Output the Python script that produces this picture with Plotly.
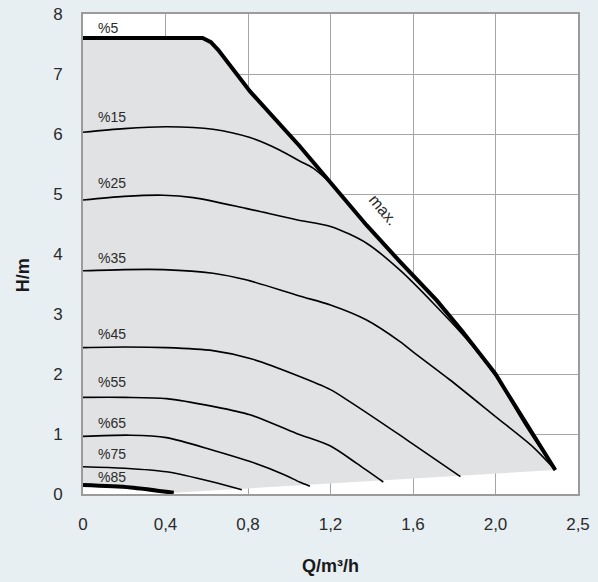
import plotly.graph_objects as go

# ---- data (Q in m3/h, H in m) ----
q_max = [0, 0.58, 0.62, 0.656, 0.81, 1.05, 1.21, 1.375, 1.54, 1.714, 1.84, 2.0, 2.05, 2.18, 2.29]
h_max = [7.6, 7.6, 7.53, 7.4, 6.71, 5.8, 5.15, 4.48, 3.86, 3.23, 2.71, 2.0, 1.72, 1.0, 0.4]

q15 = [0, 0.2, 0.405, 0.63, 0.81, 0.955, 1.05, 1.116, 1.21]
h15 = [6.03, 6.09, 6.12, 6.08, 5.94, 5.73, 5.55, 5.43, 5.15]

q25 = [0, 0.2, 0.39, 0.535, 0.79, 1.035, 1.2, 1.375, 1.537, 1.698, 1.85, 2.0, 2.15, 2.29]
h25 = [4.9, 4.96, 4.98, 4.94, 4.76, 4.57, 4.46, 4.18, 3.73, 3.18, 2.62, 1.97, 1.12, 0.4]

q35 = [0, 0.2, 0.39, 0.63, 0.79, 1.05, 1.2, 1.375, 1.537, 1.6, 1.78, 2.0, 2.18, 2.29]
h35 = [3.72, 3.74, 3.74, 3.68, 3.57, 3.3, 3.15, 2.9, 2.54, 2.37, 1.9, 1.29, 0.79, 0.4]

q45 = [0, 0.2, 0.405, 0.63, 0.81, 1.035, 1.2, 1.28, 1.537, 1.6, 1.83]
h45 = [2.44, 2.45, 2.44, 2.39, 2.26, 1.98, 1.74, 1.57, 0.98, 0.83, 0.29]

q55 = [0, 0.2, 0.405, 0.63, 0.81, 1.035, 1.2, 1.327, 1.456]
h55 = [1.61, 1.61, 1.59, 1.46, 1.32, 1.01, 0.8, 0.51, 0.2]

q65 = [0, 0.23, 0.405, 0.63, 0.81, 0.97, 1.05, 1.1]
h65 = [0.96, 0.98, 0.94, 0.73, 0.54, 0.33, 0.2, 0.13]

q75 = [0, 0.2, 0.405, 0.63, 0.77]
h75 = [0.455, 0.43, 0.37, 0.2, 0.07]

q85 = [0, 0.23, 0.44]
h85 = [0.15, 0.11, 0.02]

curve_labels = ["%5", "%15", "%25", "%35", "%45", "%55", "%65", "%75", "%85"]
label_h = [7.77, 6.28, 5.19, 3.94, 2.67, 1.86, 1.19, 0.67, 0.29]
label_q = 0.063

x_tickvals = [0, 0.4, 0.8, 1.2, 1.6, 2.0, 2.4]
x_ticktext = ["0", "0,4", "0,8", "1,2", "1,6", "2,0", "2,5"]
y_tickvals = [0, 1, 2, 3, 4, 5, 6, 7, 8]

FONT = "Liberation Sans, Arial, Helvetica, sans-serif"
TXT = "#2a2a2a"

fig = go.Figure()

# shaded operating area
fill_x = q_max + q85[::-1]
fill_y = h_max + h85[::-1]
fig.add_trace(go.Scatter(x=fill_x, y=fill_y, fill="toself", fillcolor="#e1e2e4",
                         mode="lines", line=dict(width=0), hoverinfo="skip"))

thin = [(q15, h15), (q25, h25), (q35, h35), (q45, h45), (q55, h55), (q65, h65), (q75, h75)]
for qx, hy in thin:
    fig.add_trace(go.Scatter(x=qx, y=hy, mode="lines",
                             line=dict(color="black", width=1.6, shape="spline", smoothing=0.8),
                             hoverinfo="skip"))

fig.add_trace(go.Scatter(x=q85, y=h85, mode="lines",
                         line=dict(color="black", width=4, shape="spline", smoothing=0.8),
                         hoverinfo="skip"))
fig.add_trace(go.Scatter(x=q_max, y=h_max, mode="lines",
                         line=dict(color="black", width=4),
                         hoverinfo="skip"))

annotations = []
for t, hv in zip(curve_labels, label_h):
    annotations.append(dict(x=label_q, y=hv, xref="x", yref="y", text=t, showarrow=False,
                            xanchor="left", yanchor="middle",
                            font=dict(family=FONT, size=14, color=TXT)))
annotations.append(dict(x=1.459, y=4.73, xref="x", yref="y", text="max.", showarrow=False,
                        textangle=50, font=dict(family=FONT, size=16, color=TXT)))
annotations.append(dict(x=-0.121, y=0.456, xref="paper", yref="paper", text="<b>H/m</b>",
                        showarrow=False, textangle=-90, xanchor="center", yanchor="middle",
                        font=dict(family=FONT, size=18, color="#1a1a1a")))
annotations.append(dict(x=0.5, y=-0.15, xref="paper", yref="paper", text="<b>Q/m³/h</b>",
                        showarrow=False, xanchor="center", yanchor="middle",
                        font=dict(family=FONT, size=18, color="#1a1a1a")))

fig.update_layout(
    width=598, height=582,
    margin=dict(l=83, r=20, t=14, b=88),
    paper_bgcolor="#e8eff3", plot_bgcolor="white",
    showlegend=False,
    annotations=annotations,
    xaxis=dict(range=[0, 2.4], tickvals=x_tickvals, ticktext=x_ticktext,
               showgrid=True, gridcolor="#a6a6a6", gridwidth=1, zeroline=False,
               showline=True, linecolor="#9b9b9b", linewidth=2, mirror=True,
               ticks="outside", ticklen=14, tickcolor="rgba(0,0,0,0)", automargin=False,
               tickfont=dict(family=FONT, size=17, color=TXT), fixedrange=True),
    yaxis=dict(range=[0, 8], tickvals=y_tickvals,
               showgrid=True, gridcolor="#a6a6a6", gridwidth=1, zeroline=False,
               showline=True, linecolor="#9b9b9b", linewidth=2, mirror=True,
               ticks="outside", ticklen=15, tickcolor="rgba(0,0,0,0)", automargin=False,
               tickfont=dict(family=FONT, size=17, color=TXT), fixedrange=True),
)

fig.write_html("out.html", config={"displayModeBar": False},
               post_script="document.body.style.margin='0px';document.body.style.overflow='hidden';")
